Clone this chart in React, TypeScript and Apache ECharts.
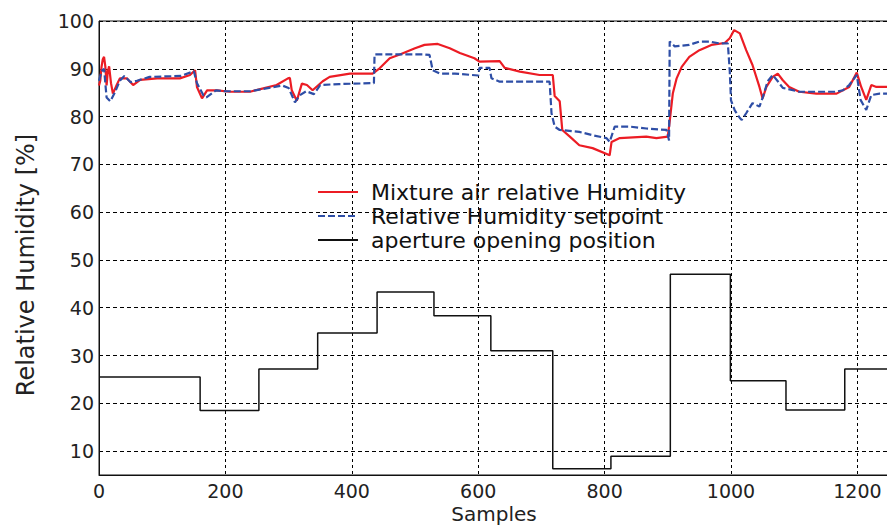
import React, { useEffect, useRef } from "react";
import * as echarts from "echarts";

// Mixture air relative humidity (red)
const mixX = [0, 2, 4, 6, 8, 10, 12, 14, 16, 19, 22, 28, 33, 44, 54, 65, 92, 128, 144, 152, 155, 163, 171, 187, 207, 239, 260, 281, 299, 302, 305, 313, 321, 329, 338, 354, 365, 397, 433, 444, 460, 476, 500, 515, 536, 555, 571, 594, 602, 634, 642, 666, 697, 718, 721, 729, 733, 745, 760, 781, 808, 811, 824, 866, 882, 900, 903, 908, 914, 922, 934, 950, 969, 990, 998, 1005, 1014, 1024, 1034, 1045, 1050, 1056, 1066, 1074, 1082, 1092, 1108, 1135, 1167, 1187, 1199, 1206, 1214, 1222, 1230, 1250];
const mixY = [86.5, 87.5, 90.4, 92.0, 92.5, 90.5, 86.5, 89.5, 90.5, 87, 84.8, 86.6, 88, 88, 86.6, 87.7, 88, 88, 88.7, 89.7, 86.2, 83.8, 85.5, 85.5, 85.2, 85.2, 85.9, 86.6, 88, 88.1, 85.5, 83.3, 86.9, 86.6, 85.5, 87.4, 88.3, 89, 89, 90.1, 92.2, 93, 94.3, 95, 95.2, 94.3, 93.3, 92.2, 91.5, 91.6, 90.2, 89.4, 88.7, 88.7, 84.3, 83.2, 77.2, 75.8, 74, 73.4, 71.9, 74.7, 75.5, 75.8, 75.5, 75.8, 79, 84.9, 88, 90.4, 92.5, 93.9, 95, 95.4, 96.4, 98.1, 97.4, 93.9, 90.8, 86.2, 83.8, 86.2, 88.3, 89, 87.6, 86.2, 85.2, 84.8, 84.8, 86.2, 89.2, 86.2, 83.5, 86.6, 86.2, 86.2];

// Relative humidity setpoint (blue dashed)
const setX = [0, 4, 8, 12, 18, 25, 33, 40, 50, 60, 80, 130, 150, 155, 165, 170, 185, 200, 240, 260, 290, 300, 310, 318, 328, 340, 350, 380, 435, 436, 480, 515, 523, 528, 539, 563, 600, 602, 618, 621, 634, 713, 716, 721, 729, 760, 781, 803, 808, 816, 840, 866, 898, 902, 903, 911, 934, 950, 966, 982, 995, 998, 1000, 1006, 1014, 1017, 1024, 1034, 1045, 1050, 1058, 1066, 1074, 1082, 1108, 1167, 1177, 1187, 1199, 1205, 1214, 1222, 1235, 1250];
const setY = [87.5, 89.5, 90, 84, 83.2, 85, 87.5, 88.5, 87.2, 87.5, 88.3, 88.5, 89.5, 87, 84.5, 84, 85.5, 85.3, 85.3, 85.8, 86.5, 86, 83, 84.5, 85.3, 84.7, 86.6, 86.8, 87, 93, 93, 93, 92.9, 89.7, 89, 89, 88.6, 90.2, 90.2, 88, 87.3, 87.3, 80.7, 77.9, 77.2, 76.8, 76.1, 75.5, 74.7, 77.9, 77.9, 77.5, 77.2, 75, 95.7, 94.7, 95, 95.7, 95.7, 95.3, 95.3, 89.6, 83.4, 81.3, 79.7, 79.3, 80.7, 82.8, 82.1, 83.9, 87.4, 88.7, 87.4, 86, 85.2, 85.2, 85.5, 86.6, 88.7, 83.5, 81.4, 84.5, 84.8, 84.8];

// Aperture opening position (black step)
const apX = [0, 160, 253, 346, 440, 530, 620, 718, 810, 904, 999, 1087, 1180, 1250];
const apY = [25.5, 18.5, 27.2, 34.7, 43.3, 38.3, 31, 6.3, 8.9, 47, 24.7, 18.6, 27.2, 27.2];

const seriesNames = [
  "Mixture air relative Humidity",
  "Relative Humidity setpoint",
  "aperture opening position",
];
const xTitle = "Samples";
const yTitle = "Relative Humidity [%]";

const zip = (xs: number[], ys: number[]) => xs.map((x, i) => [x, ys[i]]);

export default function App() {
  const ref = useRef<HTMLDivElement>(null);
  useEffect(() => {
    const chart = echarts.init(ref.current!, null, { renderer: "svg" });
    const font = "DejaVu Sans";
    chart.setOption({
      animation: false,
      backgroundColor: "#fff",
      textStyle: { fontFamily: font },
      grid: {
        left: 99,
        top: 21,
        width: 790,
        height: 454,
        containLabel: false,
        outerBoundsMode: "none",
        show: true,
        borderColor: "#111",
        borderWidth: 1,
        backgroundColor: "transparent",
      },
      legend: {
        orient: "vertical",
        left: 317,
        top: 180,
        padding: 0,
        itemGap: 0,
        itemWidth: 40,
        itemHeight: 14,
        itemStyle: { opacity: 0 },
        data: seriesNames,
        textStyle: {
          fontSize: 22,
          color: "#111",
          fontFamily: font,
          lineHeight: 24,
          padding: [0, 0, 0, 8],
        },
      },
      xAxis: {
        type: "value",
        min: 0,
        max: 1250,
        interval: 200,
        axisLine: { show: true, lineStyle: { color: "#111", width: 1 } },
        axisTick: { show: false },
        axisLabel: {
          fontSize: 19,
          lineHeight: 20,
          color: "#222",
          margin: 6,
          fontFamily: font,
          formatter: (v: number) => (v % 200 === 0 ? String(v) : ""),
        },
        splitLine: { show: true, lineStyle: { color: "#000", type: [3, 3], width: 1 } },
        name: xTitle,
        nameLocation: "middle",
        nameMoveOverlap: false,
        nameGap: 28,
        nameTextStyle: { fontSize: 20, color: "#222", fontFamily: font, lineHeight: 22, verticalAlign: "top" },
      },
      yAxis: {
        type: "value",
        min: 5,
        max: 100,
        splitNumber: 10,
        axisLine: { show: true, lineStyle: { color: "#111", width: 1 } },
        axisTick: { show: false },
        axisLabel: {
          fontSize: 19,
          color: "#222",
          margin: 5,
          fontFamily: font,
          formatter: (v: number) => (v % 10 === 0 ? String(v) : ""),
        },
        splitLine: { show: true, lineStyle: { color: "#000", type: [4, 3], width: 1 } },
      },
      graphic: [
        {
          type: "text",
          x: 26,
          y: 265,
          rotation: Math.PI / 2,
          style: {
            text: yTitle,
            fontSize: 24,
            fontFamily: font,
            fill: "#222",
            align: "center",
            verticalAlign: "middle",
          },
        },
      ],
      series: [
        {
          name: seriesNames[0],
          type: "line",
          symbol: "none",
          data: zip(mixX, mixY),
          lineStyle: { color: "#ec1c24", width: 2.2 },
          itemStyle: { color: "#ec1c24" },
        },
        {
          name: seriesNames[1],
          type: "line",
          symbol: "none",
          data: zip(setX, setY),
          lineStyle: { color: "#2e4ea6", width: 2.2, type: [7, 3] },
          itemStyle: { color: "#2e4ea6" },
        },
        {
          name: seriesNames[2],
          type: "line",
          symbol: "none",
          step: "end",
          data: zip(apX, apY),
          lineStyle: { color: "#111", width: 1.5 },
          itemStyle: { color: "#111" },
        },
      ],
    });
    return () => chart.dispose();
  }, []);
  return (
    <div
      ref={ref}
      style={{ position: "fixed", left: 0, top: 0, width: 887, height: 525, background: "#fff" }}
    />
  );
}
